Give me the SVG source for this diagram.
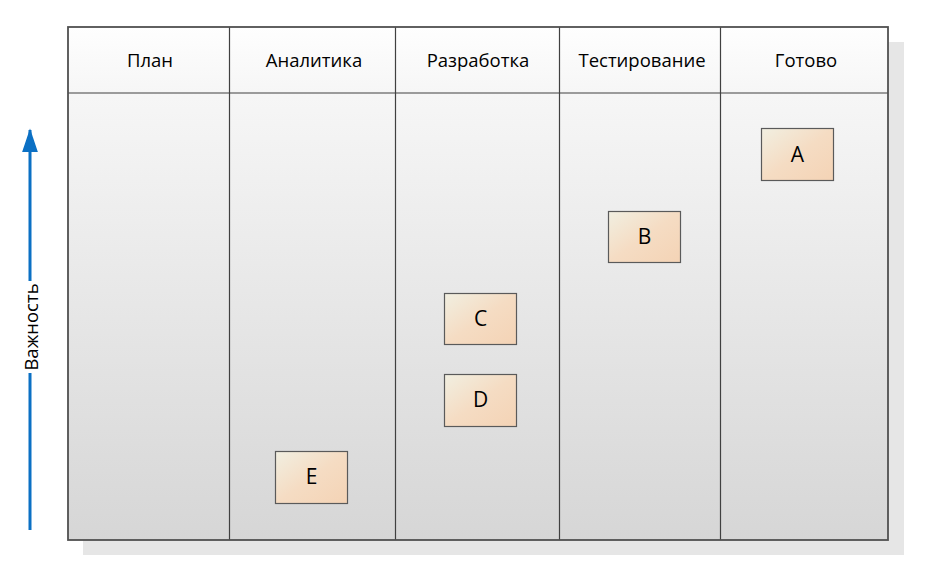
<svg xmlns="http://www.w3.org/2000/svg" width="935" height="585" viewBox="0 0 935 585">
<style>
.t{font-family:"Open Sans","Liberation Sans",sans-serif;font-size:18.5px;fill:#000;text-anchor:middle;dominant-baseline:central}
.c{font-size:21px}
.card{fill:url(#cg);stroke:#5a5a5a;stroke-width:1.2}
.div{stroke:#404040;stroke-width:1.2}
</style>
<defs>
<linearGradient id="bg" x1="0" y1="0" x2="0" y2="1">
<stop offset="0" stop-color="#fbfbfb"/>
<stop offset="1" stop-color="#d6d6d6"/>
</linearGradient>
<linearGradient id="hg" x1="0" y1="0" x2="0" y2="1">
<stop offset="0" stop-color="#fefefe"/>
<stop offset="1" stop-color="#f6f6f6"/>
</linearGradient>
<linearGradient id="cg" x1="0" y1="0" x2="1" y2="1">
<stop offset="0" stop-color="#f1efe1"/>
<stop offset="0.5" stop-color="#f5dcc3"/>
<stop offset="1" stop-color="#f4d3b5"/>
</linearGradient>
<marker id="ah" viewBox="0 0 15 10" refX="14" refY="5" markerWidth="8" markerHeight="5.4" orient="auto" markerUnits="strokeWidth">
<path d="M0,0 L15,5 L0,10 z" fill="#0b70c4"/>
</marker>
</defs>
<rect x="83" y="42" width="821" height="513" fill="#e6e6e6"/>
<g id="board">
<rect x="68" y="27" width="820" height="513" fill="url(#bg)"/>
<rect x="68" y="27" width="820" height="66" fill="url(#hg)"/>
<line class="div" x1="68" y1="93" x2="888" y2="93"/>
<line class="div" x1="229.5" y1="27" x2="229.5" y2="540"/>
<line class="div" x1="395.5" y1="27" x2="395.5" y2="540"/>
<line class="div" x1="559.5" y1="27" x2="559.5" y2="540"/>
<line class="div" x1="720.5" y1="27" x2="720.5" y2="540"/>
<rect x="68" y="27" width="820" height="513" fill="none" stroke="#505050" stroke-width="1.8"/>
<text class="t" x="150" y="59">План</text>
<text class="t" x="314" y="59">Аналитика</text>
<text class="t" x="478" y="59">Разработка</text>
<text class="t" x="642" y="59">Тестирование</text>
<text class="t" x="806" y="59">Готово</text>
</g>
<g id="connectors">
<line x1="30" y1="530" x2="30" y2="130" stroke="#0b70c4" stroke-width="3" marker-end="url(#ah)"/>
</g>
<g id="axis-label">
<rect x="20" y="281" width="20" height="92" fill="#ffffff"/>
<text class="t" x="30" y="327" transform="rotate(-90 30 327)">Важность</text>
</g>
<g id="A"><rect class="card" x="761.5" y="128.5" width="72" height="52"/><text class="t c" x="797.5" y="154">A</text></g>
<g id="B"><rect class="card" x="608.5" y="211.5" width="72" height="51"/><text class="t c" x="644.5" y="236">B</text></g>
<g id="C"><rect class="card" x="444.5" y="293.5" width="72" height="51"/><text class="t c" x="480.5" y="318">C</text></g>
<g id="D"><rect class="card" x="444.5" y="374.5" width="72" height="52"/><text class="t c" x="480.5" y="399">D</text></g>
<g id="E"><rect class="card" x="275.5" y="451.5" width="72" height="52"/><text class="t c" x="311.5" y="476">E</text></g>
</svg>
